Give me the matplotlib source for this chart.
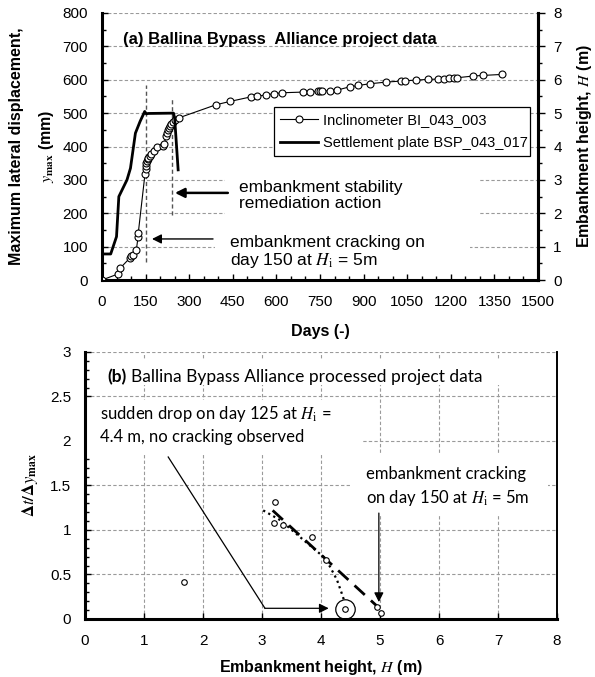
import matplotlib.pyplot as plt
from matplotlib.patches import Rectangle
from matplotlib.ticker import MultipleLocator, FormatStrFormatter

plt.rcParams['font.family'] = ['Liberation Sans', 'DejaVu Sans']
plt.rcParams['mathtext.fontset'] = 'stix'

# (a) inclinometer BI_043_003: day, maximum lateral displacement y_max (mm)
incl_days = [0, 55, 62, 95, 101, 108, 118, 124, 125, 148, 150, 152, 153, 155,
             157, 160, 165, 170, 178, 188, 210, 214, 220, 223, 226, 230, 234,
             238, 244, 250, 265, 392, 440, 514, 535, 563, 592, 620, 690, 716,
             742, 750, 757, 784, 809, 853, 882, 922, 977, 1029, 1042, 1082,
             1120, 1157, 1177, 1195, 1212, 1222, 1275, 1312, 1377]
incl_ymax = [0, 18, 35, 65, 71, 76, 89, 128, 142, 318, 333, 342, 350, 356,
             362, 366, 372, 378, 386, 398, 403, 408, 430, 440, 448, 456, 462,
             468, 474, 480, 486, 525, 535, 549, 550, 555, 558, 561, 563, 563,
             565, 565, 566, 567, 569, 579, 583, 588, 593, 596, 597, 599,
             601, 602, 603, 604, 605, 606, 611, 613, 616]

# settlement plate BSP_043_017: day, embankment height H (m)
sp_days = [0, 30, 50, 58, 72, 86, 98, 115, 131, 147, 152, 160, 246, 250, 262]
sp_height = [0.78, 0.78, 1.3, 2.5, 2.75, 3.0, 3.35, 4.4, 4.75, 5.05, 4.98,
             4.99, 5.0, 4.85, 3.3]

# cracking and remediation days with the span of their marker lines (mm)
crack_day, crack_span = 150, (55, 585)
remed_day, remed_span = 240, (195, 542)

# (b) processed data: embankment height H (m) vs dt/dy_max
proc_H = [1.67, 3.22, 3.20, 3.36, 3.85, 4.09, 4.41, 4.95, 5.02]
proc_ratio = [0.41, 1.31, 1.08, 1.06, 0.92, 0.66, 0.11, 0.14, 0.07]
lin_H = [3.18, 4.94]
lin_ratio = [1.22, 0.15]
curve_H = [3.02, 3.31, 3.84, 4.04, 4.15, 4.27, 4.35, 4.39]
curve_ratio = [1.22, 1.11, 0.81, 0.70, 0.59, 0.44, 0.29, 0.21]
drop_H, drop_ratio = 4.41, 0.11
crack_H = 5.0

grid_kw = dict(color='#9a9a9a', linestyle=(0, (3, 2)), linewidth=0.8)
arrow_kw = dict(arrowstyle='-|>', color='black', mutation_scale=14,
                shrinkA=0, shrinkB=0)

fig = plt.figure(figsize=(5.95, 6.77), dpi=100)

# ---------- (a) ----------
ax = fig.add_axes([0.1714, 0.5864, 0.7328, 0.3944])
ax.set_xlim(0, 1500)
ax.set_ylim(0, 800)
ax.set_axisbelow(True)
ax.yaxis.grid(True, **grid_kw)
ax.xaxis.set_major_locator(MultipleLocator(150))
ax.xaxis.set_minor_locator(MultipleLocator(50))
ax.yaxis.set_major_locator(MultipleLocator(100))
ax.yaxis.set_minor_locator(MultipleLocator(50))
ax.tick_params(which='both', direction='in', labelsize=11, width=1)
ax.tick_params(which='major', length=4)
ax.tick_params(which='minor', length=3)
ax.tick_params(axis='x', pad=11)
ax.tick_params(axis='y', pad=10)
ax.spines['top'].set_visible(False)
for s in ('left', 'bottom', 'right'):
    ax.spines[s].set_linewidth(2.2)

# white text panels breaking the gridlines
ax.add_patch(Rectangle((423, 180), 877, 135, fc='white', ec='none', zorder=1))
ax.add_patch(Rectangle((389, 30), 877, 120, fc='white', ec='none', zorder=1))

ax.plot([crack_day, crack_day], crack_span, color='#555555',
        linestyle=(0, (3, 2)), linewidth=1.0, zorder=2)
ax.plot([remed_day, remed_day], remed_span, color='#555555',
        linestyle=(0, (3, 2)), linewidth=1.0, zorder=2)

l1, = ax.plot(incl_days, incl_ymax, color='black', linewidth=0.8,
              marker='o', markersize=5, markerfacecolor='white',
              markeredgewidth=0.8, zorder=3, label='Inclinometer BI_043_003')

ax.annotate('', xy=(251, 261), xytext=(433, 261), arrowprops=dict(lw=1.8, **arrow_kw))
ax.annotate('', xy=(172, 123), xytext=(382, 123), arrowprops=dict(lw=1.0, **arrow_kw))

ax.text(0.314, 0.315, 'embankment stability\nremediation action',
        transform=ax.transAxes, fontsize=12.5, va='center', ha='left',
        linespacing=1.1)
ax.text(0.294, 0.103, 'embankment cracking on\nday 150 at $H_\\mathrm{i}$ = 5m',
        transform=ax.transAxes, fontsize=12.5, va='center', ha='left',
        linespacing=1.1)
ax.text(0.048, 0.902, '(a) Ballina Bypass  Alliance project data',
        transform=ax.transAxes, fontsize=12, fontweight='bold',
        va='center', ha='left')

ax.set_xlabel('Days (-)', fontsize=11.5, fontweight='bold')
ax.xaxis.set_label_coords(0.5, -0.163)
ax.text(-0.195, 0.5, 'Maximum lateral displacement,', transform=ax.transAxes,
        rotation=90, fontsize=11.5, fontweight='bold', ha='center', va='center')
ax.text(-0.128, 0.5, r'$y_{\mathbf{max}}$ (mm)', transform=ax.transAxes,
        rotation=90, fontsize=11.5, fontweight='bold', ha='center', va='center')

ax2 = ax.twinx()
ax2.set_ylim(0, 8)
l2, = ax2.plot(sp_days, sp_height, color='black', linewidth=2.0,
               label='Settlement plate BSP_043_017')
ax2.yaxis.set_major_locator(MultipleLocator(1))
ax2.yaxis.set_minor_locator(MultipleLocator(0.5))
ax2.tick_params(which='both', direction='out', labelsize=11, width=1, pad=6)
ax2.tick_params(which='major', length=5)
ax2.tick_params(which='minor', length=3)
ax2.spines['top'].set_visible(False)
ax2.spines['right'].set_linewidth(2.2)
ax2.set_ylabel('Embankment height, $H$ (m)', fontsize=11.5, fontweight='bold')
ax2.yaxis.set_label_coords(1.085, 0.5)

leg = ax2.legend(handles=[l1, l2], loc='center',
                 bbox_to_anchor=(0.394, 0.457, 0.588, 0.198), mode='expand',
                 fontsize=10.5, frameon=True, fancybox=False, framealpha=1,
                 edgecolor='black', handlelength=2.6, handletextpad=0.3,
                 borderaxespad=0, labelspacing=0.6, borderpad=0.45)
leg.get_frame().set_linewidth(0.9)

# ---------- (b) ----------
bx = fig.add_axes([0.1429, 0.0857, 0.7933, 0.3944])
bx.set_xlim(0, 8)
bx.set_ylim(0, 3)
bx.set_axisbelow(True)
bx.grid(True, **grid_kw)
bx.xaxis.set_major_locator(MultipleLocator(1))
bx.yaxis.set_major_locator(MultipleLocator(0.5))
bx.yaxis.set_minor_locator(MultipleLocator(0.1))
bx.yaxis.set_major_formatter(FormatStrFormatter('%g'))
bx.tick_params(which='both', direction='in', labelsize=11, width=1)
bx.tick_params(which='major', length=4)
bx.tick_params(which='minor', length=3)
bx.tick_params(axis='x', pad=11)
bx.tick_params(axis='y', pad=10)
bx.spines['top'].set_visible(False)
bx.spines['left'].set_linewidth(2.2)
bx.spines['bottom'].set_linewidth(2.2)
bx.spines['right'].set_linewidth(1.4)

bx.add_patch(Rectangle((0.25, 2.63), 6.87, 0.28, fc='white', ec='none', zorder=1))
bx.add_patch(Rectangle((0.02, 1.84), 4.67, 0.62, fc='white', ec='none', zorder=1))
bx.add_patch(Rectangle((4.53, 1.17), 3.32, 0.67, fc='white', ec='none', zorder=1))

bx.plot(lin_H, lin_ratio, color='black', linewidth=2.0,
        linestyle=(0, (5, 3)), zorder=2)
bx.plot(curve_H, curve_ratio, color='black', linewidth=1.6,
        linestyle=(0, (1, 1.6)), zorder=2)
bx.plot(proc_H, proc_ratio, linestyle='none', marker='o', markersize=4,
        markerfacecolor='white', markeredgecolor='black',
        markeredgewidth=0.8, zorder=3)
bx.plot([drop_H], [drop_ratio], linestyle='none', marker='o', markersize=14,
        markerfacecolor='none', markeredgecolor='black',
        markeredgewidth=0.9, zorder=3)

bx.plot([1.41, 3.05], [1.82, 0.12], color='black', linewidth=0.9, zorder=2)
bx.annotate('', xy=(4.13, 0.12), xytext=(3.05, 0.12), arrowprops=dict(lw=0.9, **arrow_kw))
bx.annotate('', xy=(crack_H - 0.02, 0.19), xytext=(crack_H - 0.02, 1.19),
            arrowprops=dict(lw=0.9, **arrow_kw))

lato = ['Lato', 'DejaVu Sans']
bx.text(0.047, 0.906, '(b)', transform=bx.transAxes, fontsize=12.5,
        fontweight='bold', va='center', ha='left', family=lato)
bx.text(0.098, 0.906, 'Ballina Bypass Alliance processed project data',
        transform=bx.transAxes, fontsize=12.5, va='center', ha='left',
        family=lato)
bx.text(0.032, 0.727,
        'sudden drop on day 125 at $H_\\mathrm{i}$ =\n4.4 m, no cracking observed',
        transform=bx.transAxes, fontsize=12, va='center', ha='left',
        family=lato, linespacing=1.4)
bx.text(0.595, 0.496,
        'embankment cracking\non day 150 at $H_\\mathrm{i}$ = 5m',
        transform=bx.transAxes, fontsize=12, va='center', ha='left',
        family=lato, linespacing=1.4)

bx.set_xlabel('Embankment height, $H$ (m)', fontsize=11.5, fontweight='bold')
bx.xaxis.set_label_coords(0.5, -0.145)
bx.set_ylabel(r'$\mathbf{\Delta}t\mathbf{/\Delta}y_{\mathbf{max}}$', fontsize=12)
bx.yaxis.set_label_coords(-0.095, 0.5)

fig.savefig('out.png', dpi=100)
